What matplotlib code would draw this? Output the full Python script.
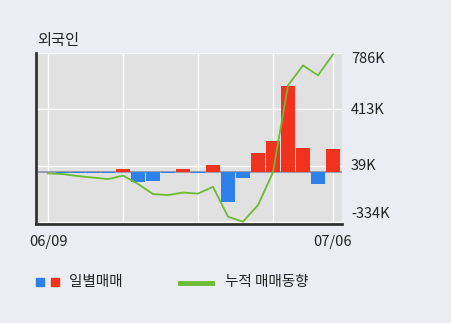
import matplotlib
matplotlib.use("Agg")
import matplotlib.pyplot as plt
from matplotlib.patches import Rectangle
from matplotlib.lines import Line2D

plt.rcParams['font.family'] = ['Noto Sans CJK KR', 'DejaVu Sans']

dates = ["06/09", "06/10", "06/11", "06/12", "06/15", "06/16", "06/17", "06/18", "06/19", "06/22",
         "06/23", "06/24", "06/25", "06/26", "06/29", "06/30", "07/01", "07/02", "07/03", "07/06"]
daily = [-3, -5, -8, -8, -6, 22, -66, -60, -5, 18,
         -5, 46, -198, -40, 125, 205, 568, 158, -79, 150]  # thousands
cumulative = [-10, -15, -28, -38, -48, -25, -80, -147, -154, -137,
              -144, -99, -297, -330, -220, -3, 572, 704, 638, 777]  # thousands
ytick_vals = [786, 413, 39, -334]
ytick_labels = ["786K", "413K", "39K", "-334K"]
xtick_labels = ["06/09", "07/06"]

BG = "#ECEDF2"
PLOT_BG = "#E1E1E1"
RED = "#F0321E"
BLUE = "#2D7FEA"
GREEN = "#6CBB35"

fig = plt.figure(figsize=(4.51, 3.23), dpi=100, facecolor=BG)
W, H = 451, 323
ax = fig.add_axes([36 / W, (H - 224) / H, (342 - 36) / W, (224 - 53) / H])
ax.set_facecolor(PLOT_BG)

x = list(range(len(dates)))
colors = [RED if v >= 0 else BLUE for v in daily]
ax.bar(x, daily, width=0.87, color=colors, zorder=3)
ax.axhline(0, color="#8A8FA0", lw=1.2, zorder=2.5)
ax.plot(x, cumulative, color=GREEN, lw=1.3, zorder=4)

ax.set_xlim(-0.8, 19.6)
ax.set_ylim(-345, 786)
ax.set_yticks(ytick_vals)
ax.set_yticklabels([])
ax.set_xticks([0, 19])
ax.set_xticklabels(xtick_labels)
ax.set_xticks([5, 10, 15], minor=True)
ax.grid(True, which="both", axis="x", color="white", lw=1.0, zorder=1)
ax.grid(True, which="major", axis="y", color="white", lw=1.0, zorder=1)
ax.tick_params(axis="both", which="both", length=0, labelsize=10.5, colors="#222222")
ax.tick_params(axis="x", pad=8)
for s in ["top", "right"]:
    ax.spines[s].set_visible(False)
for s in ["left", "bottom"]:
    ax.spines[s].set_color("#333333")
    ax.spines[s].set_linewidth(2)

# y labels on the right, nudged inside the plot height like the reference
label_y_px = [59, 110, 166, 214]
for lab, ypx in zip(ytick_labels, label_y_px):
    fig.text(351 / W, 1 - ypx / H, lab, fontsize=10.5, va="center", ha="left", color="#222222")

fig.text(37 / W, 1 - 40 / H, "외국인", fontsize=11, va="center", ha="left", color="#222222")

# legend
fig.patches.append(Rectangle((36 / W, 1 - 286 / H), 8 / W, 8 / H, transform=fig.transFigure,
                             color=BLUE, figure=fig))
fig.patches.append(Rectangle((51 / W, 1 - 286 / H), 8 / W, 8 / H, transform=fig.transFigure,
                             color=RED, figure=fig))
fig.text(69 / W, 1 - 282 / H, "일별매매", fontsize=10.5, va="center", ha="left", color="#222222")
fig.lines.append(Line2D([180 / W, 212 / W], [1 - 283 / H, 1 - 283 / H], transform=fig.transFigure,
                        color=GREEN, lw=3.5, figure=fig))
fig.text(225 / W, 1 - 282 / H, "누적 매매동향", fontsize=10.5, va="center", ha="left", color="#222222")

fig.savefig("out.png", dpi=100, facecolor=BG)
